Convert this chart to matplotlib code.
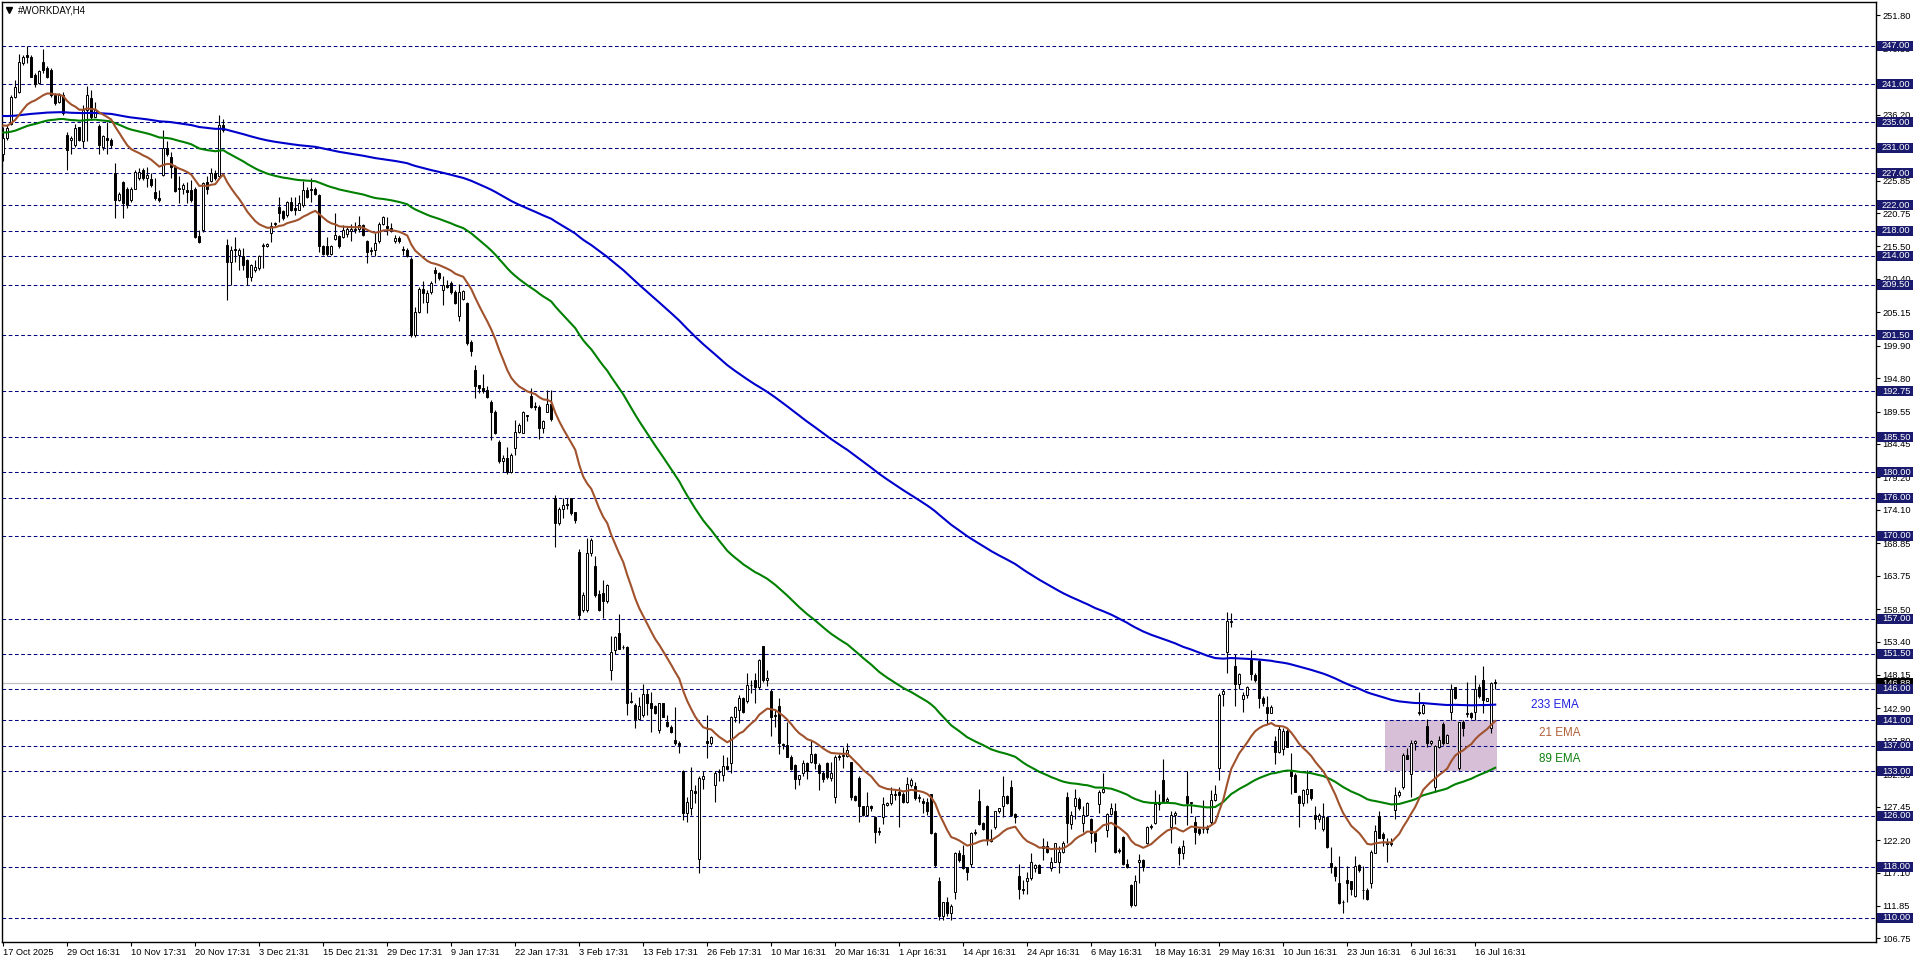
import numpy as np
import matplotlib.pyplot as plt
from matplotlib.patches import Rectangle

plt.rcParams['font.family'] = ['Liberation Sans', 'DejaVu Sans']

# H4 candles (bar 0 = 17 Oct 2025)
opens = [
    230.0, 232.5, 234.8, 239.0, 239.8, 244.3, 245.6, 245.3, 242.4, 241.2,
    244.5, 243.5, 243.2, 239.3, 238.2, 239.3, 233.0, 232.2, 231.4, 234.2,
    232.0, 236.9, 238.8, 235.9, 234.4, 231.2, 232.5, 232.2, 227.0, 222.8,
    225.7, 224.6, 222.8, 224.6, 226.2, 227.5, 226.2, 226.1, 224.1, 223.1,
    226.7, 230.9, 229.6, 228.0, 224.5, 224.5, 224.4, 224.4, 224.6, 217.1,
    218.1, 225.7, 225.8, 227.1, 226.5, 234.6, 215.7, 213.0, 215.0, 214.1,
    214.0, 213.4, 210.7, 211.8, 212.1, 215.5, 215.5, 217.6, 219.0, 221.7,
    221.0, 220.4, 222.5, 221.5, 221.3, 222.0, 224.4, 224.5, 224.6, 223.6,
    215.5, 215.6, 214.3, 216.6, 217.1, 217.0, 217.5, 218.0, 218.1, 218.3,
    218.9, 216.4, 214.8, 214.9, 216.3, 219.1, 218.7, 218.4, 216.4, 216.9,
    215.0, 215.0, 213.6, 201.6, 205.2, 208.8, 206.8, 208.4, 211.8, 211.4,
    208.7, 209.5, 209.7, 208.4, 204.5, 207.2, 206.6, 200.5, 196.0, 193.7,
    193.2, 192.9, 191.1, 189.5, 184.8, 181.7, 182.2, 180.1, 183.8, 186.4,
    186.2, 189.0, 192.0, 190.4, 190.3, 186.9, 189.5, 190.8, 175.9, 172.0,
    174.3, 174.8, 175.9, 173.7, 167.5, 158.4, 158.4, 167.3, 165.2, 160.9,
    161.0, 159.7, 148.9, 152.1, 154.8, 152.6, 152.6, 143.9, 143.4, 141.2,
    141.9, 145.2, 143.8, 143.2, 139.5, 143.7, 140.7, 140.0, 138.0, 137.4,
    133.0, 126.4, 127.2, 129.9, 119.2, 131.8, 137.7, 137.4, 130.9, 133.1,
    132.4, 133.8, 134.3, 141.5, 142.7, 144.5, 144.1, 146.6, 147.3, 146.2,
    152.7, 147.3, 145.6, 141.9, 143.2, 137.3, 137.1, 135.3, 134.0, 131.8,
    132.7, 134.3, 134.4, 135.8, 134.0, 132.7, 134.3, 131.9, 129.0, 135.4,
    135.4, 135.4, 134.4, 129.1, 131.9, 127.5, 126.1, 127.6, 125.9, 123.5,
    125.8, 127.7, 128.1, 129.3, 129.8, 129.4, 128.2, 130.9, 130.7, 128.8,
    128.4, 128.2, 129.4, 123.3, 115.7, 110.2, 112.4, 110.7, 114.1, 120.1,
    119.9, 117.9, 118.5, 123.3, 128.3, 124.9, 127.6, 122.3, 124.3, 126.7,
    127.5, 129.1, 130.6, 126.3, 116.6, 114.5, 115.7, 116.2, 117.8, 118.3,
    120.9, 121.2, 117.8, 118.8, 118.8, 120.4, 128.9, 124.8, 127.5, 128.6,
    124.9, 126.1, 125.5, 123.3, 127.9, 129.8, 123.8, 126.3, 126.8, 120.7,
    122.7, 118.5, 115.1, 112.0, 118.7, 119.0, 121.8, 124.2, 124.9, 127.9,
    131.6, 128.4, 124.3, 126.1, 120.9, 120.2, 129.1, 128.0, 125.1, 124.0,
    124.0, 123.9, 125.1, 128.5, 133.6, 145.2, 151.7, 156.5, 149.6, 146.7,
    144.3, 145.0, 150.6, 148.2, 150.4, 144.5, 143.1, 142.2, 137.7, 136.1,
    136.5, 139.4, 133.0, 132.4, 129.1, 128.1, 129.5, 130.2, 126.2, 125.5,
    123.9, 125.8, 118.6, 117.9, 115.5, 112.5, 116.0, 115.7, 113.4, 118.3,
    114.4, 114.4, 115.5, 120.2, 126.0, 123.2, 121.8, 121.6, 126.9, 129.3,
    130.5, 135.6, 132.6, 137.5, 142.2, 142.2, 140.1, 137.4, 130.6, 136.8,
    140.4, 137.5, 142.4, 146.2, 133.6, 140.8, 142.0, 142.2, 142.4, 146.2,
    147.4, 144.1, 139.8, 146.9,
]
highs = [
    234.3, 234.6, 239.3, 241.6, 245.8, 245.6, 247.0, 245.6, 242.7, 243.2,
    246.6, 243.8, 243.5, 239.6, 239.6, 239.7, 233.5, 232.8, 234.8, 234.3,
    237.7, 240.7, 240.1, 238.2, 234.8, 233.0, 235.1, 232.5, 228.6, 224.1,
    225.8, 224.9, 224.8, 227.5, 227.8, 227.8, 228.0, 227.0, 226.2, 224.4,
    233.8, 232.0, 230.4, 228.3, 226.5, 225.4, 225.7, 225.9, 224.9, 218.1,
    225.7, 226.5, 227.8, 227.5, 236.1, 235.6, 216.6, 215.5, 217.0, 215.2,
    215.2, 213.6, 212.8, 213.4, 214.1, 216.0, 216.1, 219.4, 219.4, 223.3,
    221.2, 222.7, 223.3, 223.3, 223.6, 225.8, 224.9, 226.2, 224.9, 223.8,
    215.7, 217.0, 215.7, 220.7, 217.3, 218.9, 218.5, 219.1, 219.4, 220.3,
    219.1, 216.5, 215.4, 217.6, 219.4, 220.3, 220.1, 219.2, 217.3, 217.1,
    215.6, 215.2, 213.9, 206.0, 209.2, 210.0, 208.7, 210.0, 212.3, 211.5,
    210.8, 210.2, 210.0, 208.7, 209.6, 208.7, 206.8, 200.8, 196.9, 193.7,
    195.5, 193.5, 191.4, 189.8, 185.1, 182.7, 184.0, 183.0, 188.2, 187.7,
    189.7, 189.0, 193.2, 191.1, 190.6, 188.2, 192.9, 192.9, 176.4, 174.6,
    175.9, 176.0, 175.9, 173.8, 168.0, 161.2, 169.6, 169.6, 166.8, 161.5,
    163.1, 162.5, 154.2, 154.2, 157.7, 152.9, 152.7, 145.4, 143.7, 144.7,
    146.8, 145.9, 145.4, 143.4, 143.8, 143.8, 141.9, 140.3, 143.1, 137.7,
    133.2, 129.0, 133.7, 130.9, 132.2, 133.0, 141.9, 138.5, 133.0, 133.3,
    135.6, 135.3, 141.7, 143.3, 145.0, 144.7, 148.4, 147.3, 148.4, 150.6,
    152.7, 148.9, 145.9, 142.6, 144.6, 137.4, 140.8, 135.6, 134.2, 132.5,
    134.8, 134.5, 137.9, 135.9, 134.3, 133.0, 134.4, 134.5, 135.6, 135.8,
    136.9, 137.4, 134.5, 129.3, 132.2, 127.6, 129.7, 127.7, 126.0, 124.3,
    128.9, 128.2, 130.6, 130.1, 130.6, 129.7, 132.1, 131.9, 131.4, 129.5,
    128.8, 128.8, 129.5, 123.4, 116.4, 112.5, 113.3, 112.2, 120.4, 120.7,
    121.4, 118.0, 123.4, 123.9, 130.3, 125.1, 127.7, 123.9, 126.8, 127.3,
    132.3, 129.3, 131.6, 126.4, 118.5, 115.9, 117.2, 120.1, 118.5, 118.5,
    122.5, 122.0, 119.6, 121.8, 121.2, 122.0, 129.8, 126.7, 130.2, 129.0,
    127.5, 128.2, 125.6, 123.5, 130.1, 132.7, 126.5, 128.0, 128.0, 120.9,
    122.8, 119.3, 115.3, 116.7, 120.0, 119.2, 124.4, 124.8, 130.1, 129.5,
    135.0, 129.0, 126.7, 126.7, 121.2, 122.2, 133.0, 128.2, 126.0, 124.3,
    128.5, 124.6, 130.1, 130.9, 145.3, 145.9, 158.1, 157.9, 151.4, 148.4,
    145.4, 146.4, 152.1, 148.4, 150.6, 144.8, 144.8, 143.4, 138.5, 140.1,
    139.8, 139.6, 135.9, 132.7, 129.3, 130.3, 133.2, 130.3, 127.5, 126.4,
    128.0, 126.0, 121.1, 118.1, 119.7, 112.8, 118.1, 115.8, 119.7, 118.4,
    118.1, 114.6, 120.6, 124.6, 126.8, 123.4, 122.6, 122.5, 130.5, 130.1,
    135.9, 136.6, 137.9, 138.0, 145.4, 143.7, 141.3, 137.9, 137.1, 138.6,
    140.7, 138.9, 146.8, 146.3, 140.8, 141.1, 147.1, 142.4, 148.1, 146.8,
    149.5, 144.6, 147.1, 147.5,
]
lows = [
    229.0, 232.2, 234.6, 238.8, 239.6, 244.0, 244.3, 242.2, 240.6, 241.1,
    242.7, 241.9, 239.0, 237.7, 238.0, 236.1, 227.5, 230.1, 231.2, 232.0,
    230.9, 232.0, 235.6, 235.8, 230.1, 230.6, 230.1, 230.9, 219.9, 222.7,
    219.9, 221.5, 222.5, 224.5, 225.9, 225.9, 224.9, 224.9, 222.8, 222.5,
    226.5, 229.7, 226.2, 224.0, 222.3, 223.8, 222.3, 222.5, 216.9, 216.1,
    217.8, 223.8, 225.7, 225.9, 226.2, 233.5, 207.1, 209.4, 213.1, 211.8,
    211.8, 209.4, 210.1, 211.5, 211.8, 212.1, 215.4, 216.2, 218.6, 219.4,
    219.6, 220.2, 221.0, 220.4, 221.2, 221.7, 223.1, 222.5, 223.6, 214.7,
    214.2, 214.0, 214.2, 216.5, 215.2, 216.8, 217.0, 216.4, 217.6, 217.8,
    217.2, 212.9, 214.2, 214.0, 216.0, 218.9, 217.3, 217.8, 216.0, 216.1,
    214.2, 213.8, 201.3, 201.3, 205.0, 206.6, 205.0, 208.1, 209.7, 210.2,
    206.3, 208.9, 208.1, 206.5, 203.7, 207.1, 200.0, 198.3, 191.6, 192.4,
    192.4, 191.6, 185.1, 186.0, 181.4, 180.1, 179.8, 179.9, 182.7, 186.1,
    186.1, 188.0, 190.1, 189.8, 185.2, 186.1, 189.4, 188.0, 168.3, 171.7,
    172.8, 174.3, 173.3, 172.0, 157.0, 158.0, 158.0, 166.9, 160.4, 158.2,
    157.1, 159.5, 147.4, 151.5, 152.2, 152.3, 141.9, 143.7, 139.8, 141.1,
    141.6, 141.9, 139.2, 142.0, 139.0, 141.5, 140.0, 139.1, 137.1, 135.9,
    125.4, 125.1, 126.1, 128.0, 117.1, 130.3, 135.1, 137.1, 128.2, 131.5,
    131.5, 133.2, 132.7, 140.8, 140.6, 142.1, 143.7, 145.3, 143.7, 145.9,
    147.1, 146.4, 138.6, 140.0, 135.8, 136.5, 135.2, 133.2, 130.2, 130.9,
    132.3, 131.8, 134.3, 133.3, 130.1, 131.4, 131.8, 131.5, 128.1, 134.8,
    133.5, 135.3, 128.5, 128.4, 125.1, 126.0, 126.0, 126.7, 121.7, 123.0,
    124.8, 127.5, 127.7, 128.5, 124.3, 128.0, 128.0, 130.6, 128.5, 128.2,
    126.4, 126.1, 123.2, 118.0, 109.7, 109.7, 110.2, 109.7, 113.0, 118.8,
    117.6, 116.0, 118.0, 123.0, 124.6, 123.8, 121.4, 121.9, 123.9, 126.5,
    125.9, 127.9, 126.0, 124.9, 112.9, 113.8, 113.8, 116.0, 117.2, 117.0,
    119.1, 120.2, 117.4, 118.7, 117.1, 120.1, 121.7, 124.0, 125.5, 126.9,
    123.5, 126.0, 121.7, 120.4, 126.5, 129.6, 122.7, 126.1, 120.2, 120.2,
    118.3, 117.8, 111.7, 111.8, 115.4, 117.4, 121.6, 123.9, 124.8, 127.0,
    128.2, 128.2, 121.7, 124.8, 118.3, 119.3, 124.6, 126.4, 121.6, 123.0,
    123.3, 123.3, 124.8, 128.4, 131.6, 143.3, 148.5, 155.7, 143.2, 145.9,
    142.4, 144.6, 147.3, 147.1, 142.9, 143.2, 140.5, 142.1, 134.2, 135.9,
    135.6, 136.8, 129.5, 129.7, 124.3, 127.6, 128.1, 128.5, 124.0, 125.1,
    123.7, 120.9, 117.0, 115.8, 112.2, 110.8, 112.5, 113.6, 113.3, 117.2,
    112.9, 112.8, 114.6, 120.1, 122.5, 121.2, 118.7, 121.2, 125.5, 128.9,
    130.2, 134.9, 128.9, 136.3, 141.9, 142.0, 136.8, 137.1, 129.8, 136.6,
    137.1, 137.4, 141.1, 144.3, 133.2, 138.5, 141.5, 141.3, 141.0, 144.6,
    142.1, 144.0, 139.0, 146.0,
]
closes = [
    232.5, 234.1, 239.0, 240.6, 244.5, 245.3, 245.3, 242.2, 241.1, 243.0,
    243.2, 242.2, 239.3, 238.0, 239.3, 236.4, 230.6, 232.5, 234.1, 232.2,
    236.9, 239.3, 235.9, 236.9, 231.4, 232.8, 232.2, 231.4, 222.8, 223.8,
    222.3, 222.0, 224.6, 227.2, 227.2, 226.2, 226.7, 225.1, 223.1, 222.8,
    230.9, 230.1, 228.0, 224.2, 224.6, 225.1, 224.1, 222.8, 217.0, 216.2,
    225.4, 224.5, 227.1, 226.2, 234.6, 233.8, 213.1, 215.0, 214.9, 214.9,
    212.6, 210.7, 212.6, 212.2, 214.0, 215.7, 215.9, 218.7, 219.1, 220.8,
    219.9, 222.5, 221.2, 221.2, 222.3, 224.4, 223.3, 224.3, 223.7, 215.5,
    214.3, 214.3, 215.6, 217.3, 215.5, 218.1, 218.2, 218.2, 218.3, 218.9,
    217.3, 214.7, 214.9, 216.1, 219.1, 220.2, 218.4, 218.1, 216.9, 216.4,
    214.9, 214.0, 201.6, 205.2, 208.8, 208.2, 208.2, 209.7, 211.3, 210.5,
    209.5, 209.2, 208.4, 206.6, 208.4, 208.5, 200.3, 199.0, 193.6, 193.2,
    192.7, 191.9, 189.5, 186.1, 181.7, 182.3, 180.1, 182.7, 186.4, 187.4,
    189.5, 188.8, 190.3, 190.2, 186.9, 188.0, 190.7, 188.3, 172.0, 174.3,
    174.9, 175.0, 173.6, 172.5, 157.5, 160.7, 167.3, 169.4, 160.7, 158.4,
    159.7, 162.3, 151.8, 154.1, 152.3, 152.5, 143.8, 144.0, 141.2, 143.3,
    145.1, 143.7, 142.9, 142.1, 143.7, 141.6, 140.1, 139.2, 137.4, 137.1,
    126.4, 128.2, 130.1, 129.6, 131.9, 132.3, 137.4, 138.4, 132.8, 132.9,
    133.8, 133.3, 141.5, 143.1, 144.5, 142.4, 146.6, 146.5, 146.2, 150.5,
    147.3, 147.6, 141.6, 141.7, 137.4, 137.1, 135.3, 133.3, 131.8, 132.4,
    134.3, 133.0, 135.8, 134.3, 132.7, 131.8, 132.1, 132.8, 135.3, 135.2,
    135.4, 136.4, 129.0, 128.5, 127.5, 126.1, 127.6, 127.2, 123.5, 123.6,
    127.9, 128.1, 129.4, 129.4, 129.3, 128.2, 131.0, 131.6, 128.8, 129.0,
    128.1, 126.7, 123.3, 118.3, 110.2, 112.4, 110.7, 111.8, 120.2, 119.1,
    117.8, 117.2, 123.3, 123.5, 124.8, 124.0, 122.2, 122.1, 126.7, 127.2,
    129.1, 128.1, 126.1, 125.8, 114.5, 114.3, 116.3, 118.8, 118.3, 117.1,
    121.2, 120.4, 118.8, 121.7, 120.4, 121.7, 124.9, 126.1, 128.8, 127.2,
    126.1, 128.1, 123.3, 122.0, 129.8, 130.2, 126.3, 127.2, 120.4, 120.5,
    118.5, 117.9, 112.0, 115.7, 119.0, 118.0, 124.2, 124.4, 127.9, 128.2,
    128.4, 128.6, 126.1, 126.4, 120.2, 121.2, 128.0, 128.1, 123.5, 123.3,
    123.9, 124.1, 128.5, 129.4, 145.0, 145.7, 156.6, 156.6, 146.7, 148.3,
    145.0, 146.2, 148.3, 147.3, 144.5, 143.8, 142.2, 143.1, 136.1, 139.6,
    139.4, 136.9, 132.3, 129.8, 128.1, 130.1, 130.2, 128.8, 125.5, 126.1,
    125.9, 121.1, 117.9, 116.5, 112.3, 112.4, 115.5, 114.5, 118.1, 117.5,
    114.3, 113.0, 120.4, 123.7, 122.6, 122.6, 121.6, 121.8, 129.3, 129.7,
    135.6, 135.0, 137.5, 137.7, 142.4, 143.4, 137.4, 137.7, 137.0, 138.0,
    137.5, 138.7, 146.0, 144.5, 140.7, 139.8, 142.2, 141.5, 146.0, 144.8,
    144.2, 144.5, 146.9, 146.88,
]

# EMA values at the first visible bar
ema_seeds = {233: 236.0, 89: 233.4, 21: 234.5}
ema_colors = {233: '#0000cc', 89: '#008000', 21: '#a0522d'}

# horizontal levels drawn on the chart
levels = [247.00, 241.00, 235.00, 231.00, 227.00, 222.00, 218.00, 214.00, 209.50,
          201.50, 192.75, 185.50, 180.00, 176.00, 170.00, 157.00, 151.50, 146.00,
          141.00, 137.00, 133.00, 126.00, 118.00, 110.00]

price_ticks = [251.80, 246.55, 241.45, 236.20, 231.05, 225.85, 220.75, 215.50, 210.40,
               205.15, 199.90, 194.80, 189.55, 184.45, 179.20, 174.10, 168.85, 163.75,
               158.50, 153.40, 148.15, 142.90, 137.80, 132.55, 127.45, 122.20, 117.10,
               111.85, 106.75]

date_labels = ['17 Oct 2025', '29 Oct 16:31', '10 Nov 17:31', '20 Nov 17:31', '3 Dec 21:31',
               '15 Dec 21:31', '29 Dec 17:31', '9 Jan 17:31', '22 Jan 17:31', '3 Feb 17:31',
               '13 Feb 17:31', '26 Feb 17:31', '10 Mar 16:31', '20 Mar 16:31', '1 Apr 16:31',
               '14 Apr 16:31', '24 Apr 16:31', '6 May 16:31', '18 May 16:31', '29 May 16:31',
               '10 Jun 16:31', '23 Jun 16:31', '6 Jul 16:31', '16 Jul 16:31']
date_step = 16  # bars between date labels

zone_bars = (346, 374)
zone_prices = (133.0, 141.0)

o = np.array(opens); h = np.array(highs); l = np.array(lows); c = np.array(closes)
h = np.maximum(h, np.maximum(o, c))
l = np.minimum(l, np.minimum(o, c))
n = len(c)
x = np.arange(n)


def ema(vals, period, seed):
    a = 2.0 / (period + 1)
    out = [seed]
    for v in vals[1:]:
        out.append(out[-1] + a * (v - out[-1]))
    return np.array(out)


W, H = 1916, 963
fig = plt.figure(figsize=(W / 100, H / 100), dpi=100)
ax = fig.add_axes([2.3 / W, 1 - 942.3 / H, (1876 - 2.3) / W, (942.3 - 2) / H])
ax.set_xlim(-0.25, 468.2)
ax.set_ylim(106.14, 253.91)

navy = '#1a1a6e'
for lv in levels:
    ax.axhline(lv, color='#000080', lw=0.75, ls=(0, (3.5, 2.5)), zorder=1)
ax.axhline(c[-1], color='#c0c0c0', lw=0.9, zorder=1.5)

ax.add_patch(Rectangle((zone_bars[0] - 0.5, zone_prices[0]), zone_bars[1] - zone_bars[0],
                       zone_prices[1] - zone_prices[0], facecolor='#d8bfd8', edgecolor='none', zorder=0.5))

# candles
ax.vlines(x, l, h, color='black', lw=0.8, zorder=3)
up = c >= o
lo = np.minimum(o, c)
bh = np.maximum(np.abs(c - o), 0.12)
ax.bar(x[up], bh[up], bottom=lo[up], width=0.55, facecolor='white', edgecolor='black', lw=0.7, zorder=4)
ax.bar(x[~up], bh[~up], bottom=lo[~up], width=0.55, facecolor='black', edgecolor='black', lw=0.7, zorder=4)

for p in (233, 89, 21):
    ax.plot(x, ema(c, p, ema_seeds[p]), color=ema_colors[p], lw=1.5, zorder=5)

ax.text(382, 143.4, '233 EMA', color='#2020e0', fontsize=8.4, va='center', ha='left')
ax.text(384, 139.0, '21 EMA', color='#b0603a', fontsize=8.4, va='center', ha='left')
ax.text(384, 134.9, '89 EMA', color='#108010', fontsize=8.4, va='center', ha='left')

# axes
for s in ax.spines.values():
    s.set_color('black'); s.set_linewidth(1.0)
ax.yaxis.tick_right()
ax.set_yticks(price_ticks)
ax.set_yticklabels([f'{t:.2f}' for t in price_ticks])
ax.set_xticks(np.arange(len(date_labels)) * date_step)
ax.set_xticklabels(date_labels, ha='left')
ax.tick_params(axis='y', direction='out', length=3, width=0.8, pad=1.5, labelsize=6.7)
ax.tick_params(axis='x', direction='out', length=3, width=0.8, pad=1.0, labelsize=6.7)

ytr = ax.get_yaxis_transform()
axw = 1876 - 2.3
box_h = 10 / 6.363


def level_box(val, fc, z):
    ax.add_patch(Rectangle((1 + 1 / axw, val - box_h / 2), 36 / axw, box_h, transform=ytr,
                           facecolor=fc, edgecolor='none', clip_on=False, zorder=z))
    ax.text(1 + 6 / axw, val, f'{val:.2f}', transform=ytr, color='white', fontsize=6.7,
            va='center', ha='left', clip_on=False, zorder=z + 0.1)


level_box(c[-1], 'black', 9)
for lv in levels:
    level_box(lv, navy, 10)

ax.plot([7.0 / axw], [1 - 8.3 / 940.3], marker='v', ms=4, color='black',
        transform=ax.transAxes, clip_on=False)
ax.text(16 / axw, 1 - 8.3 / 940.3, '#WORKDAY,H4', transform=ax.transAxes, fontsize=6.9,
        va='center', ha='left', color='black')

fig.savefig('out.png', dpi=100, facecolor='white')
